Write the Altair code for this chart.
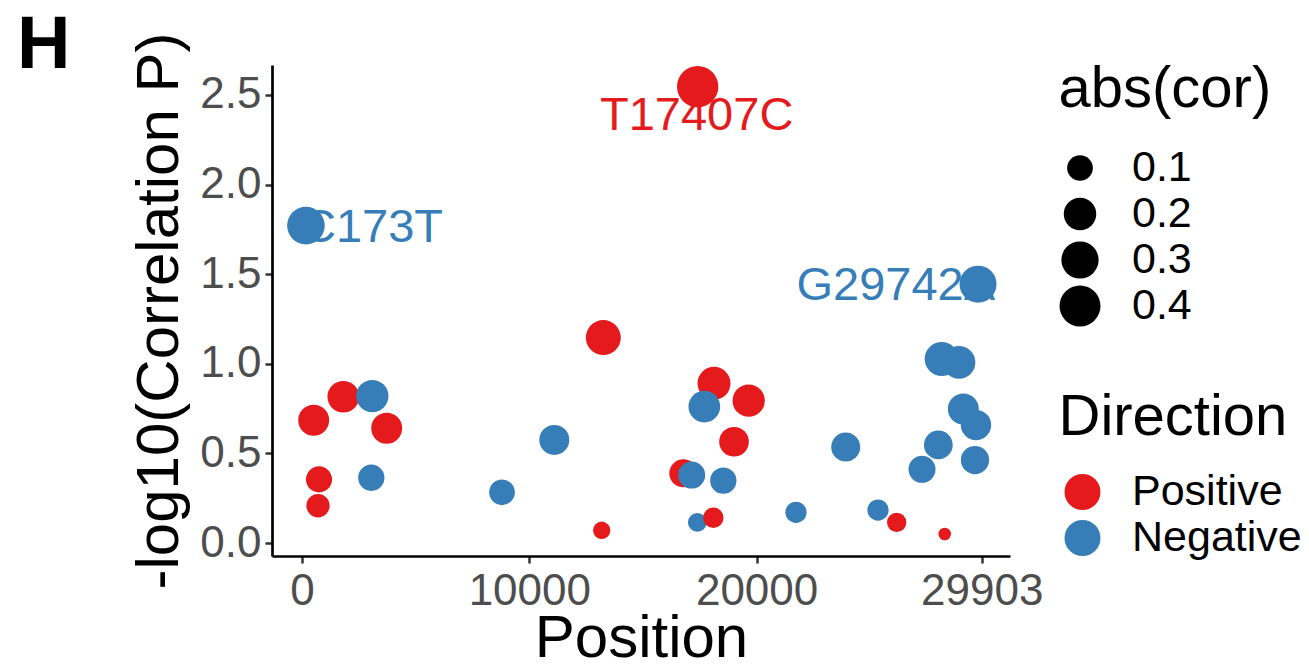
import altair as alt
import pandas as pd

FONT = "Liberation Sans"

# genomic position of each mutation
position = [173, 514, 704, 748, 1817, 3049, 3093, 3726, 8799, 11100,
            13185, 13256, 16775, 17144, 17392, 17407, 18126, 17700, 18096, 18535,
            19006, 19652, 21733, 23920, 25341, 26163, 27277, 27995, 28142, 28275,
            28904, 29095, 29608, 29652, 29742]
# -log10(correlation P)
neglog_p = [1.771, 0.685, 0.208, 0.355, 0.816, 0.364, 0.820, 0.640, 0.283, 0.575,
            0.071, 1.146, 0.389, 0.379, 0.115, 2.546, 0.891, 0.761, 0.141, 0.348,
            0.565, 0.794, 0.171, 0.536, 0.184, 0.115, 0.411, 0.547, 1.027, 0.050,
            1.008, 0.748, 0.463, 0.658, 1.444]
# absolute correlation
abs_cor = [0.31, 0.174, 0.075, 0.104, 0.186, 0.107, 0.197, 0.174, 0.100, 0.158,
           0.031, 0.25, 0.129, 0.116, 0.039, 0.41, 0.21, 0.186, 0.05, 0.107,
           0.153, 0.197, 0.057, 0.143, 0.057, 0.043, 0.116, 0.139, 0.23, 0.012,
           0.204, 0.174, 0.133, 0.164, 0.295]
direction = ["Negative", "Positive", "Positive", "Positive", "Positive", "Negative", "Negative", "Positive", "Negative", "Negative",
             "Positive", "Positive", "Positive", "Negative", "Negative", "Positive", "Positive", "Negative", "Positive", "Negative",
             "Positive", "Positive", "Negative", "Negative", "Negative", "Positive", "Negative", "Negative", "Negative", "Positive",
             "Negative", "Negative", "Negative", "Negative", "Negative"]
label = ["C173T", "", "", "", "", "", "", "", "", "",
         "", "", "", "", "", "T17407C", "", "", "", "",
         "", "", "", "", "", "", "", "", "", "",
         "", "", "", "", "G29742A"]

dir_levels = ["Positive", "Negative"]
dir_colors = ["#E41A1C", "#377EB8"]
x_ticks = [0, 10000, 20000, 29903]
y_ticks = [0.0, 0.5, 1.0, 1.5, 2.0, 2.5]
size_breaks = [0.1, 0.2, 0.3, 0.4]

df = pd.DataFrame({"Position": position, "P": neglog_p, "abscor": abs_cor,
                   "Direction": direction, "label": label})

x_enc = alt.X("Position:Q", scale=alt.Scale(domain=[-1320, 31148], nice=False, zero=False),
              axis=alt.Axis(values=x_ticks, format="d", title="Position",
                            titleY=100, titleBaseline="alphabetic",
                            labelPadding=6, labelFlush=False, labelOverlap=False))
y_enc = alt.Y("P:Q", scale=alt.Scale(domain=[-0.0725, 2.667], nice=False, zero=False),
              axis=alt.Axis(values=y_ticks, format=".1f", title="-log10(Correlation P)",
                            titleX=-95, titleY=245.5, titleBaseline="alphabetic",
                            titleAngle=-90, titleAlign="center",
                            labelPadding=4, labelFlush=False, labelOverlap=False))
color_enc = alt.Color("Direction:N", scale=alt.Scale(domain=dir_levels, range=dir_colors),
                      legend=alt.Legend(title="Direction", orient="none", legendX=786.5, legendY=324,
                                        symbolSize=1296, symbolType="circle", symbolStrokeWidth=0,
                                        symbolOffset=2.5, labelOffset=28, clipHeight=46,
                                        rowPadding=0, titlePadding=22,
                                        titleLimit=400, labelLimit=400))
size_enc = alt.Size("abscor:Q",
                    scale=alt.Scale(type="pow", exponent=0.674, domain=[0, 0.42], range=[0, 1737]),
                    legend=alt.Legend(title="abs(cor)", values=size_breaks, format=".1f",
                                      orient="none", legendX=786.5, legendY=-4,
                                      symbolFillColor="black", symbolStrokeWidth=0,
                                      symbolType="circle", labelOffset=30.5, clipHeight=46,
                                      rowPadding=0, titlePadding=26,
                                      titleLimit=400, labelLimit=400))

base = alt.Chart(df)

txt_kw = dict(font=FONT, fontSize=47, baseline="alphabetic")
lab_left = base.transform_filter(alt.datum.label == "C173T").mark_text(
    align="left", dx=-4, dy=16, **txt_kw).encode(x=x_enc, y=y_enc, text="label:N", color=color_enc)
lab_mid = base.transform_filter(alt.datum.label == "T17407C").mark_text(
    align="center", dx=-1, dy=43, **txt_kw).encode(x=x_enc, y=y_enc, text="label:N", color=color_enc)
lab_right = base.transform_filter(alt.datum.label == "G29742A").mark_text(
    align="right", dx=17, dy=16, **txt_kw).encode(x=x_enc, y=y_enc, text="label:N", color=color_enc)

points = base.mark_circle(opacity=1, strokeWidth=0).encode(
    x=x_enc, y=y_enc, size=size_enc, color=color_enc)

chart = alt.layer(lab_left, lab_mid, lab_right, points).properties(
    width=738, height=491,
    autosize=alt.AutoSizeParams(type="none"),
    padding={"left": 264, "top": 57, "right": 291, "bottom": 107},
    title=alt.TitleParams("H", anchor="start", fontSize=74, fontWeight="bold", font=FONT,
                          color="black", dx=-255, dy=110, baseline="alphabetic", offset=0, frame="group"),
).configure_view(stroke=None).configure_axis(
    grid=False, domainColor="black", domainWidth=2.7, tickColor="#333333", tickWidth=2.5,
    tickSize=7, labelFont=FONT, labelFontSize=44, labelColor="#4D4D4D",
    titleFont=FONT, titleFontSize=60, titleFontWeight="normal", titleColor="black",
).configure_legend(
    titleFont=FONT, titleFontSize=58, titleFontWeight="normal", titleColor="black",
    labelFont=FONT, labelFontSize=43, labelColor="black", padding=0,
)

chart.save("out.html", embed_options={"renderer": "svg", "actions": False})
